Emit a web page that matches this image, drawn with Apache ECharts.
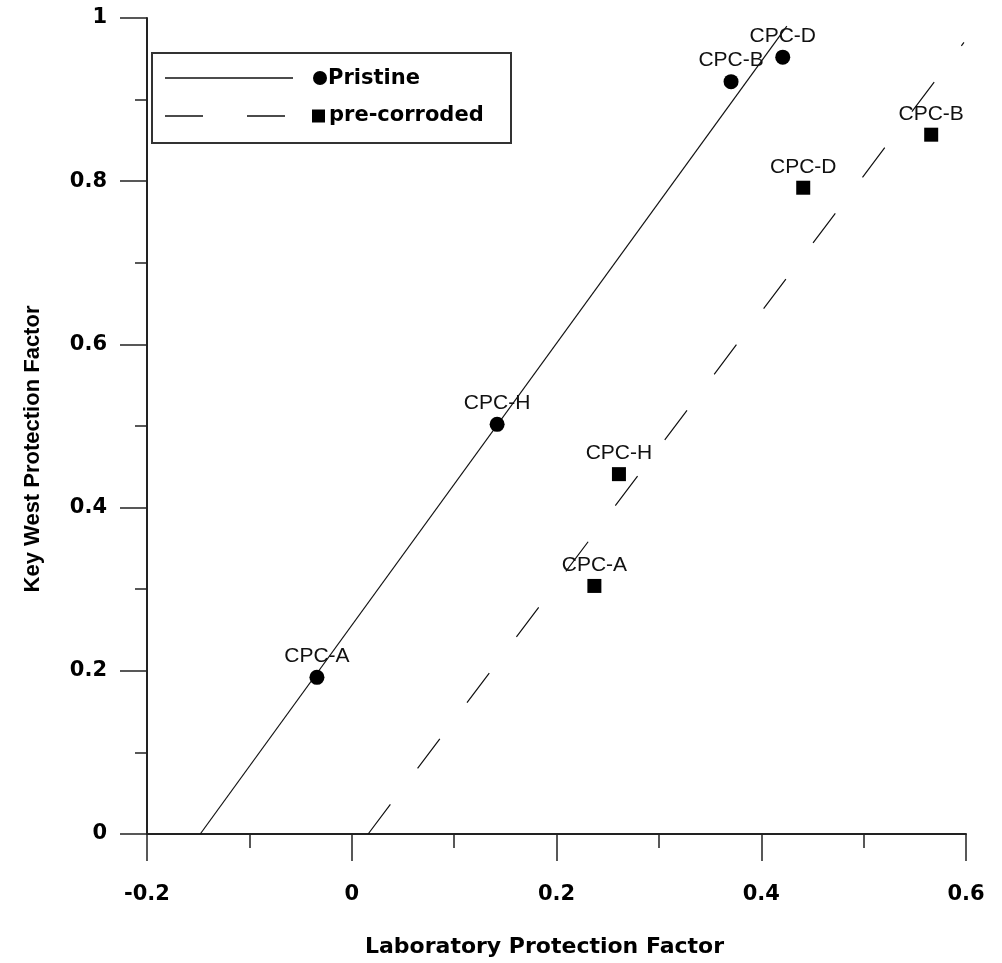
<!DOCTYPE html>
<html>
<head>
<meta charset="utf-8">
<script src="https://cdn.jsdelivr.net/npm/echarts@6/dist/echarts.min.js"></script>
<style>
  html, body { margin: 0; padding: 0; background: #fff; }
  #chart { width: 1002px; height: 963px; }
</style>
</head>
<body>
<div id="chart"></div>
<script>
// Pristine coatings
const pristineNames = ['CPC-A', 'CPC-H', 'CPC-B', 'CPC-D'];
const pristineX = [-0.034, 0.142, 0.3705, 0.421];
const pristineY = [0.192, 0.502, 0.922, 0.952];

// Pre-corroded coatings
const corrodedNames = ['CPC-A', 'CPC-H', 'CPC-D', 'CPC-B'];
const corrodedX = [0.237, 0.261, 0.441, 0.566];
const corrodedY = [0.304, 0.441, 0.792, 0.857];

// Linear fit end points (lower end first)
const pristineFitX = [-0.148, 0.425];
const pristineFitY = [0, 0.99];
const corrodedFitX = [0.016, 0.598];
const corrodedFitY = [0, 0.97];

// Axis ticks
const xTicks = [-0.2, 0, 0.2, 0.4, 0.6];
const yTicks = [0, 0.2, 0.4, 0.6, 0.8, 1];

const pts = (xs, ys, names) => xs.map((x, i) => names ? { name: names[i], value: [x, ys[i]] } : [x, ys[i]]);

const tickFont = { fontFamily: 'DejaVu Sans', fontWeight: 'bold', fontSize: 21, color: '#000' };
const pointLabel = {
  show: true, position: 'top', distance: 3, formatter: '{b}',
  fontFamily: 'Liberation Sans', fontSize: 21, color: '#111', opacity: 1
};

const chart = echarts.init(document.getElementById('chart'), null, { renderer: 'canvas' });
chart.setOption({
  animation: false,
  backgroundColor: '#fff',
  grid: { left: 147, right: 36, top: 18, bottom: 127 },
  xAxis: {
    type: 'value',
    min: xTicks[0], max: xTicks[xTicks.length - 1], interval: 0.2,
    name: 'Laboratory Protection Factor',
    nameLocation: 'middle', nameGap: 102,
    nameTextStyle: { fontFamily: 'DejaVu Sans', fontWeight: 'bold', fontSize: 22, color: '#000', padding: [0, 24, 0, 0] },
    axisLine: { show: true, onZero: false, lineStyle: { color: '#222', width: 2 } },
    axisTick: { show: true, inside: false, length: 27, lineStyle: { color: '#222', width: 1.5 } },
    minorTick: { show: true, splitNumber: 2, length: 14, lineStyle: { color: '#222', width: 1.5 } },
    axisLabel: Object.assign({ margin: 50 }, tickFont),
    splitLine: { show: false }
  },
  yAxis: {
    type: 'value',
    min: yTicks[0], max: yTicks[yTicks.length - 1], interval: 0.2,
    name: 'Key West Protection Factor',
    nameLocation: 'middle', nameGap: 103,
    nameTextStyle: { fontFamily: 'Liberation Sans', fontWeight: 'bold', fontSize: 22, color: '#000', padding: [0, 46, 0, 0] },
    axisLine: { show: true, onZero: false, lineStyle: { color: '#222', width: 2 } },
    axisTick: { show: true, inside: false, length: 27, lineStyle: { color: '#222', width: 1.5 } },
    minorTick: { show: true, splitNumber: 2, length: 12, lineStyle: { color: '#222', width: 1.5 } },
    axisLabel: Object.assign({ margin: 40 }, tickFont),
    splitLine: { show: false }
  },
  series: [
    {
      name: 'Pristine fit', type: 'line', data: pts(pristineFitX, pristineFitY),
      showSymbol: false, symbol: 'none', silent: true,
      lineStyle: { color: '#111', width: 1.2, type: 'solid' }, z: 3
    },
    {
      name: 'pre-corroded fit', type: 'line', data: pts(corrodedFitX, corrodedFitY),
      showSymbol: false, symbol: 'none', silent: true,
      lineStyle: { color: '#111', width: 1.2, type: [37, 45.2] }, z: 3
    },
    {
      name: 'Pristine', type: 'scatter', data: pts(pristineX, pristineY, pristineNames),
      symbol: 'circle', symbolSize: 15, itemStyle: { color: '#000', opacity: 1 }, label: pointLabel, z: 4
    },
    {
      name: 'pre-corroded', type: 'scatter', data: pts(corrodedX, corrodedY, corrodedNames),
      symbol: 'rect', symbolSize: 14, itemStyle: { color: '#000', opacity: 1 }, label: pointLabel, z: 4
    }
  ],
  graphic: [
    // legend box
    { type: 'rect', shape: { x: 152, y: 53, width: 359, height: 90 },
      style: { fill: '#fff', stroke: '#333', lineWidth: 2 }, z: 10 },
    { type: 'line', shape: { x1: 165, y1: 78, x2: 293, y2: 78 },
      style: { stroke: '#111', lineWidth: 1.5 }, z: 11 },
    { type: 'circle', shape: { cx: 320, cy: 78, r: 7 }, style: { fill: '#000' }, z: 11 },
    { type: 'text', x: 328, y: 79,
      style: { text: 'Pristine', fontFamily: 'DejaVu Sans', fontWeight: 'bold', fontSize: 21, fill: '#000', verticalAlign: 'middle' }, z: 11 },
    { type: 'line', shape: { x1: 165, y1: 116, x2: 287, y2: 116 },
      style: { stroke: '#111', lineWidth: 1.5, lineDash: [38, 44] }, z: 11 },
    { type: 'rect', shape: { x: 312, y: 109.5, width: 13, height: 13 }, style: { fill: '#000' }, z: 11 },
    { type: 'text', x: 329, y: 116,
      style: { text: 'pre-corroded', fontFamily: 'DejaVu Sans', fontWeight: 'bold', fontSize: 21, fill: '#000', verticalAlign: 'middle' }, z: 11 }
  ]
});
</script>
</body>
</html>
